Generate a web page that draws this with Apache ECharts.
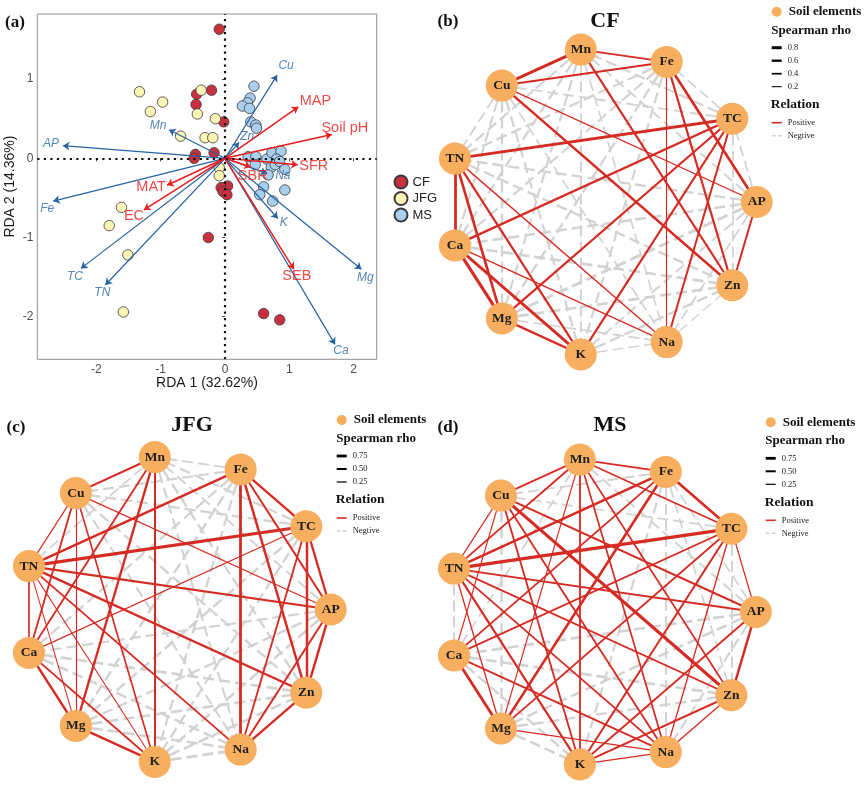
<!DOCTYPE html>
<html><head><meta charset="utf-8">
<script src="https://cdn.jsdelivr.net/npm/echarts/dist/echarts.min.js"></script>
<style>html,body{margin:0;padding:0;background:#fff}#c{width:865px;height:792px}</style>
</head><body><div id="c"></div>
<script>
// ---------- Panel (a): RDA ----------
const cfPoints = [[-0.09,1.63],[-0.44,0.81],[-0.21,0.86],[-0.45,0.68],[-0.02,0.46],[-0.46,0.05],[-0.48,0.0],[-0.17,0.07],[0.04,-0.35],[-0.06,-0.37],[-0.03,-0.42],[0.03,-0.46],[-0.26,-1.0],[0.6,-1.96],[0.85,-2.04]];
const jfgPoints = [[-1.33,0.84],[-0.37,0.86],[-0.97,0.71],[-1.16,0.59],[-0.43,0.56],[-0.15,0.5],[-0.69,0.28],[-0.31,0.26],[-0.19,0.26],[-0.09,-0.12],[-0.09,-0.22],[-1.61,-0.62],[-1.8,-0.85],[-1.51,-1.22],[-1.58,-1.94]];
const msPoints = [[0.45,0.91],[0.39,0.76],[0.35,0.7],[0.27,0.66],[0.38,0.63],[0.4,0.46],[0.48,0.42],[0.49,0.38],[0.36,0.02],[0.48,0.02],[0.47,-0.08],[0.65,-0.01],[0.73,0.07],[0.87,0.09],[0.8,-0.01],[0.72,-0.11],[0.78,-0.08],[0.85,-0.04],[0.93,-0.14],[0.67,-0.21],[0.6,-0.36],[0.54,-0.46],[0.74,-0.54],[0.93,-0.4]];
const soilVectors = [['Cu',0.81,1.05],['Mn',-0.87,0.36],['AP',-2.52,0.16],['Zn',0.22,0.2],['Fe',-2.67,-0.54],['Na',0.65,-0.19],['K',0.82,-0.76],['TC',-2.24,-1.39],['TN',-1.86,-1.6],['Mg',2.12,-1.4],['Ca',1.71,-2.35]];
const envVectors = [['MAP',1.14,0.65],['Soil pH',1.66,0.3],['SFR',1.13,-0.08],['SBR',0.4,-0.11],['MAT',-0.9,-0.34],['EC',-1.26,-0.65],['SEB',1.07,-1.4]];
const xTicks = [-2,-1,0,1,2];
const yTicks = [-2,-1,0,1];
const groupNames = ['CF','JFG','MS'];

// ---------- Panels (b)-(d): Spearman networks ----------
const nodeOrder = ['AP','TC','Fe','Mn','Cu','TN','Ca','Mg','K','Na','Zn'];
const cfPositive = [['Mn','Fe',0.45],['Mn','Cu',0.8],['Cu','Fe',0.5],['Mn','Zn',0.55],['Cu','Zn',0.65],['Cu','AP',0.3],['Fe','Na',0.25],['Fe','Zn',0.55],['Fe','AP',0.7],['TC','TN',0.8],['TC','Ca',0.6],['TC','Mg',0.55],['TC','K',0.55],['TC','Na',0.5],['AP','Zn',0.5],['TN','Ca',0.75],['TN','Mg',0.7],['TN','K',0.55],['TN','Na',0.3],['Ca','Mg',0.85],['Ca','K',0.75],['Ca','Na',0.3],['Mg','K',0.6]];
const cfNegative = [['AP','TC',-0.3],['AP','Mn',-0.35],['AP','TN',-0.45],['AP','Ca',-0.5],['AP','Mg',-0.6],['AP','K',-0.35],['AP','Na',-0.3],['TC','Fe',-0.3],['TC','Mn',-0.4],['TC','Cu',-0.35],['TC','Zn',-0.3],['Fe','TN',-0.45],['Fe','Ca',-0.4],['Fe','Mg',-0.45],['Fe','K',-0.4],['Mn','TN',-0.4],['Mn','Ca',-0.45],['Mn','Mg',-0.4],['Mn','K',-0.35],['Mn','Na',-0.3],['Cu','TN',-0.35],['Cu','Ca',-0.4],['Cu','Mg',-0.45],['Cu','K',-0.4],['Cu','Na',-0.3],['TN','Zn',-0.45],['Ca','Zn',-0.55],['Mg','Na',-0.3],['Mg','Zn',-0.55],['K','Na',-0.25],['K','Zn',-0.45],['Na','Zn',-0.2]];
const jfgPositive = [['Mn','Cu',0.55],['Mn','Ca',0.45],['Mn','Mg',0.6],['Mn','K',0.5],['Cu','TN',0.25],['Cu','Ca',0.45],['Cu','Mg',0.25],['Cu','K',0.4],['Cu','AP',0.25],['Fe','TN',0.65],['Fe','TC',0.6],['Fe','AP',0.5],['Fe','Zn',0.65],['Fe','Na',0.75],['TC','TN',0.85],['TC','AP',0.6],['TC','Zn',0.65],['TC','Na',0.45],['TC','Ca',0.25],['AP','Zn',0.65],['AP','Na',0.5],['AP','TN',0.55],['Zn','Na',0.6],['Zn','TN',0.6],['Ca','Mg',0.65],['Ca','K',0.45],['Ca','TN',0.4],['Mg','K',0.65],['TN','Na',0.45],['TN','K',0.2],['TN','Mg',0.2]];
const jfgNegative = [['AP','Mn',-0.35],['AP','Ca',-0.4],['AP','Mg',-0.45],['AP','K',-0.5],['TC','Mn',-0.4],['TC','Cu',-0.45],['TC','Mg',-0.5],['TC','K',-0.45],['Fe','Mn',-0.35],['Fe','Cu',-0.4],['Fe','Ca',-0.45],['Fe','Mg',-0.5],['Fe','K',-0.45],['Mn','TN',-0.3],['Mn','Na',-0.4],['Mn','Zn',-0.45],['Cu','Na',-0.4],['Cu','Zn',-0.45],['Ca','Na',-0.5],['Ca','Zn',-0.55],['Mg','Na',-0.5],['Mg','Zn',-0.55],['K','Na',-0.6],['K','Zn',-0.5]];
const msPositive = [['Mn','Fe',0.45],['Mn','Cu',0.45],['Mn','TC',0.4],['Mn','TN',0.45],['Mn','Mg',0.25],['Mn','K',0.45],['Mn','Zn',0.4],['Mn','Na',0.4],['Fe','TC',0.7],['Fe','TN',0.7],['Fe','Ca',0.45],['Fe','Mg',0.7],['Cu','Zn',0.85],['Cu','AP',0.5],['Cu','Na',0.45],['Cu','K',0.45],['Cu','TN',0.25],['Cu','Ca',0.25],['TC','TN',0.9],['TC','Ca',0.45],['TC','K',0.5],['TC','Na',0.3],['TC','AP',0.25],['TC','Mg',0.45],['TN','AP',0.45],['TN','Zn',0.45],['TN','Na',0.45],['TN','K',0.55],['TN','Mg',0.3],['AP','Zn',0.65],['AP','K',0.45],['Ca','Mg',0.75],['Ca','Na',0.45],['Mg','Na',0.3],['K','Na',0.3],['K','Zn',0.5],['Na','Zn',0.3]];
const msNegative = [['AP','Fe',-0.3],['AP','Mn',-0.35],['AP','Ca',-0.55],['AP','Mg',-0.5],['AP','Na',-0.4],['TC','Cu',-0.3],['TC','Zn',-0.35],['Fe','Cu',-0.35],['Fe','K',-0.4],['Fe','Na',-0.35],['Fe','Zn',-0.3],['Mn','Ca',-0.3],['Cu','Mg',-0.5],['TN','Ca',-0.35],['Ca','K',-0.45],['Ca','Zn',-0.55],['Mg','K',-0.5],['Mg','Zn',-0.45]];
const cfRhoTicks = [0.8,0.6,0.4,0.2];
const jfgRhoTicks = [0.75,0.50,0.25];
const msRhoTicks = [0.75,0.50,0.25];

// ---------- styles ----------
const serif = 'Liberation Serif';
const sans = 'Liberation Sans';
const groupColors = {CF:'#c9303f', JFG:'#fcf5b6', MS:'#a9cfef'};
const blue = '#2563a3', blueText = '#2b67a8', red = '#ec1c1c';
const posColor = '#d42b23', negColor = '#d2d2d2';
const R = 154;
const nets = [
  {title:'CF', tag:'(b)', pos:cfPositive, neg:cfNegative, ticks:cfRhoTicks, c:[602.7,202], tl:[605,21], tg:[448,22], lg:[776.7,11.7]},
  {title:'JFG', tag:'(c)', pos:jfgPositive, neg:jfgNegative, ticks:jfgRhoTicks, c:[176.7,609.5], tl:[192,425], tg:[16,428], lg:[341.7,420]},
  {title:'MS', tag:'(d)', pos:msPositive, neg:msNegative, ticks:msRhoTicks, c:[601.8,612], tl:[610,425], tg:[448,428], lg:[770.7,422.3]}
];
function edgeWidth(r){ return 0.4 + 3.2*Math.abs(r); }

const chart = echarts.init(document.getElementById('c'), null, {width:865, height:792});

const grids = [{left:37.3, top:14, width:339.4, height:345.3, show:true, borderColor:'#8f8f8f', borderWidth:1, backgroundColor:'#fff'}];
const xAxes = [{type:'value', min:-2.918, max:2.358, gridIndex:0,
  name:'RDA 1 (32.62%)', nameLocation:'middle', nameGap:16, nameTextStyle:{fontFamily:sans, fontSize:14, color:'#1a1a1a'},
  splitLine:{show:false}, axisLine:{show:false},
  axisTick:{show:true, inside:false, length:3, lineStyle:{color:'#444'}, customValues:xTicks},
  axisLabel:{customValues:xTicks, fontFamily:sans, fontSize:12, color:'#4d4d4d', margin:4}}];
const yAxes = [{type:'value', min:-2.538, max:1.822, gridIndex:0,
  name:'RDA 2 (14.36%)', nameLocation:'middle', nameGap:20, nameTextStyle:{fontFamily:sans, fontSize:14, color:'#1a1a1a'},
  splitLine:{show:false}, axisLine:{show:false},
  axisTick:{show:true, inside:false, length:3, lineStyle:{color:'#444'}, customValues:yTicks},
  axisLabel:{customValues:yTicks, fontFamily:sans, fontSize:12, color:'#4d4d4d', margin:4}}];

const series = [];
// zero dotted lines
series.push({type:'scatter', xAxisIndex:0, yAxisIndex:0, data:[], silent:true,
  markLine:{silent:true, symbol:'none', label:{show:false}, animation:false,
    lineStyle:{type:[2.2,4.3], color:'#111', width:2.2},
    data:[{xAxis:0},{yAxis:0}]}});
[cfPoints, jfgPoints, msPoints].forEach((pts, i) => {
  series.push({type:'scatter', name:groupNames[i], xAxisIndex:0, yAxisIndex:0, data:pts,
    symbolSize:10.5, z:2, itemStyle:{color:groupColors[groupNames[i]], borderColor:'#3a3a3a', borderWidth:0.8, opacity:1}});
});
function arrowSeries(vecs, color, width){
  return {type:'lines', coordinateSystem:'cartesian2d', xAxisIndex:0, yAxisIndex:0, z:3,
    symbol:['none','arrow'], symbolSize:6.5, silent:true,
    lineStyle:{color:color, width:width, opacity:1, curveness:0},
    data: vecs.map(v => ({coords:[[0,0],[v[1],v[2]]]}))};
}
series.push(arrowSeries(soilVectors, blue, 1.2));
series.push(arrowSeries(envVectors, red, 1.5));
const soilLabelOffsets = {Cu:[9,-9],Mn:[-11,-4],AP:[-12,-2],Zn:[8,-6],Fe:[-6,8],Na:[16,2],K:[6,4],TC:[-6,8],TN:[-3,8],Mg:[4,8],Ca:[6,6]};
const envLabelOffsets = {'MAP':[17,-6],'Soil pH':[13,-7],'SFR':[16,1],'SBR':[2,9],'MAT':[-16,2],'EC':[-10,6],'SEB':[3,7]};
function labelSeries(vecs, offs, color, size, italic){
  return {type:'scatter', xAxisIndex:0, yAxisIndex:0, z:4, silent:true, symbolSize:1,
    itemStyle:{color:'rgba(0,0,0,0)'},
    data: vecs.map(v => ({name:v[0], value:[v[1],v[2]],
      label:{show:true, position:'inside', offset:offs[v[0]], formatter:v[0], color:color, fontSize:size,
        fontStyle: italic ? 'italic':'normal', fontFamily:sans, align:'center', verticalAlign:'middle'}}))};
}
series.push(labelSeries(soilVectors, soilLabelOffsets, blueText, 12, true));
series.push(labelSeries(envVectors, envLabelOffsets, red, 14.5, false));

// networks
const pad = 1.1;
const graphics = [];
function txt(x, y, s, size, opts){
  return {type:'text', x:x, y:y, silent:true, style:Object.assign({text:s, fontFamily:serif, fontSize:size, fill:'#111', align:'left', verticalAlign:'middle'}, opts||{})};
}
graphics.push(txt(15, 23, '(a)', 17, {fontWeight:'bold', align:'center'}));
nets.forEach((n, k) => {
  const gi = k + 1;
  grids.push({left:n.c[0]-pad*R, top:n.c[1]-pad*R, width:2*pad*R, height:2*pad*R, show:false});
  xAxes.push({type:'value', gridIndex:gi, min:-pad, max:pad, show:false});
  yAxes.push({type:'value', gridIndex:gi, min:-pad, max:pad, show:false});
  const nodes = nodeOrder.map((name, i) => {
    const a = i * 2 * Math.PI / nodeOrder.length;
    return {name:name, value:[Math.cos(a), Math.sin(a)]};
  });
  const links = [];
  n.neg.forEach(e => links.push({source:e[0], target:e[1], lineStyle:{color:negColor, width:1.25*edgeWidth(e[2]), type:[11,5], opacity:1}}));
  n.pos.forEach(e => links.push({source:e[0], target:e[1], lineStyle:{color:posColor, width:edgeWidth(e[2]), type:'solid', opacity:1}}));
  series.push({type:'graph', layout:'none', coordinateSystem:'cartesian2d', xAxisIndex:gi, yAxisIndex:gi,
    silent:true, symbolSize:32, itemStyle:{color:'#f8ae5f'},
    label:{show:true, position:'inside', formatter:'{b}', fontFamily:serif, fontWeight:'bold', fontSize:13.5, color:'#1e1e1e'},
    lineStyle:{curveness:0}, data:nodes, links:links, z:2});
  graphics.push(txt(n.tl[0], n.tl[1], n.title, 22, {fontWeight:'bold', align:'center'}));
  graphics.push(txt(n.tg[0], n.tg[1], n.tag, 17, {fontWeight:'bold', align:'center'}));
  const x = n.lg[0], y = n.lg[1];
  graphics.push({type:'circle', silent:true, shape:{cx:x, cy:y, r:5}, style:{fill:'#f8ae5f'}});
  graphics.push(txt(x+12, y, 'Soil elements', 13, {fontWeight:'bold'}));
  graphics.push(txt(x-5.5, y+18.5, 'Spearman rho', 13, {fontWeight:'bold'}));
  n.ticks.forEach((t, i) => {
    const yy = y + 36 + i*13;
    graphics.push({type:'line', silent:true, shape:{x1:x-5, y1:yy, x2:x+5, y2:yy}, style:{stroke:'#000', lineWidth:edgeWidth(t)}});
    graphics.push(txt(x+11, yy, t.toFixed(k === 0 ? 1 : 2), 8.5, {fill:'#222'}));
  });
  const ry = y + 36 + n.ticks.length*13 + 5;
  graphics.push(txt(x-6, ry, 'Relation', 13.5, {fontWeight:'bold'}));
  graphics.push({type:'line', silent:true, shape:{x1:x-5, y1:ry+18, x2:x+5, y2:ry+18}, style:{stroke:posColor, lineWidth:1.6}});
  graphics.push(txt(x+11, ry+18, 'Positive', 8.5, {fill:'#222'}));
  graphics.push({type:'line', silent:true, shape:{x1:x-5, y1:ry+31, x2:x+5, y2:ry+31}, style:{stroke:negColor, lineWidth:1.6, lineDash:[4,2]}});
  graphics.push(txt(x+11, ry+31, 'Negtive', 8.5, {fill:'#222'}));
});

chart.setOption({
  animation:false,
  backgroundColor:'#fff',
  grid:grids, xAxis:xAxes, yAxis:yAxes,
  legend:{data:groupNames, orient:'vertical', left:388.5, top:169.5, icon:'circle', itemWidth:13, itemHeight:13, itemGap:1.5,
    textStyle:{fontFamily:sans, fontSize:13, color:'#222'}, selectedMode:false},
  series:series,
  graphic:graphics
});
</script></body></html>
